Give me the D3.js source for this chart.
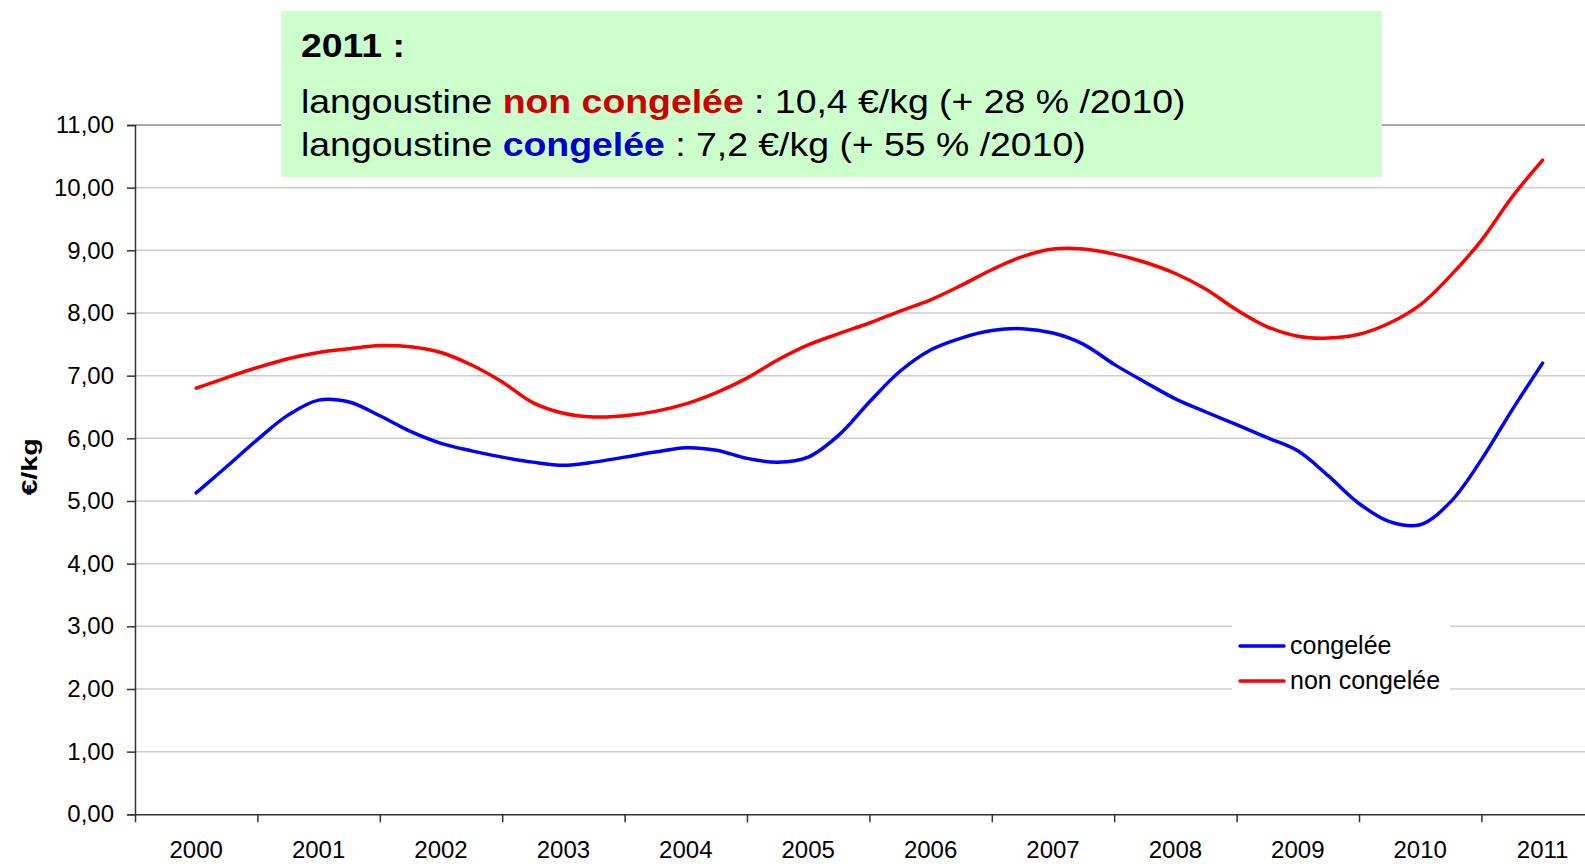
<!DOCTYPE html>
<html>
<head>
<meta charset="utf-8">
<script src="https://cdn.jsdelivr.net/npm/d3@7"></script>
<style>
  html, body { margin: 0; padding: 0; background: #fff; overflow: hidden; }
  svg { display: block; font-family: "Liberation Sans", Arial, sans-serif; }
</style>
</head>
<body>
<svg id="chart" width="1585" height="864"></svg>
<script>
// yearly categories shown on the x axis
const years = [2000, 2001, 2002, 2003, 2004, 2005, 2006, 2007, 2008, 2009, 2010, 2011];

// quarterly prices (€/kg), from Q1 2000 to Q1 2011
const congelee = [
    5.13, 5.55, 5.98, 6.37,
    6.61, 6.58, 6.36, 6.11,
    5.92, 5.80, 5.70, 5.62,
    5.57, 5.62, 5.70, 5.78,
    5.85, 5.81, 5.68, 5.62,
    5.70, 6.05, 6.58, 7.07,
    7.41, 7.60, 7.72, 7.75,
    7.68, 7.50, 7.18, 6.90,
    6.63, 6.42, 6.22, 6.01,
    5.80, 5.40, 4.96, 4.67,
    4.62, 4.99, 5.66, 6.45,
    7.20
];
const nonCongelee = [
    6.80, 6.97, 7.13, 7.27,
    7.37, 7.43, 7.48, 7.46,
    7.37, 7.17, 6.90, 6.57,
    6.40, 6.34, 6.36, 6.43,
    6.55, 6.73, 6.96, 7.25,
    7.49, 7.67, 7.84, 8.03,
    8.21, 8.44, 8.69, 8.90,
    9.02, 9.02, 8.94, 8.81,
    8.63, 8.38, 8.05, 7.78,
    7.63, 7.60, 7.66, 7.84,
    8.13, 8.60, 9.16, 9.85,
    10.44
];

const yTicks = [0, 1, 2, 3, 4, 5, 6, 7, 8, 9, 10, 11];

const seriesNames = ['congelée', 'non congelée'];
const seriesColors = ['#0000ff', '#ff0000'];

const margin = { top: 125, left: 135, bottom: 50 };
const bandWidth = 122.4;
const fontFamily = '"Liberation Sans", Arial, sans-serif';

let svg = d3.select('#chart');

// x: continuous time in years, band edges on integer years
let xScale = d3.scaleLinear()
    .domain([years[0], years[years.length - 1] + 1])
    .range([margin.left, margin.left + years.length * bandWidth]);
let xBand = d3.scaleBand()
    .domain(years)
    .range(xScale.range());
let yScale = d3.scaleLinear()
    .domain([0, 11])
    .range([814.3, margin.top]);

// time of each quarterly point (the first point sits in the middle of the 2000 band)
let quarterTime = function(i){
    return years[0] + 0.5 + i / 4;
};

// grid lines
svg.append('g')
    .selectAll('line')
    .data(yTicks.slice(1))
    .enter()
    .append('line')
    .attr('x1', margin.left)
    .attr('x2', xScale.range()[1])
    .attr('y1', d => yScale(d))
    .attr('y2', d => yScale(d))
    .attr('stroke', d => d === 11 ? '#8c8c8c' : '#cdcdcd')
    .attr('stroke-width', 1.5);

// y axis
let yAxis = svg.append('g')
    .attr('transform', 'translate(' + margin.left + ',0)')
    .call(d3.axisLeft(yScale)
        .tickValues(yTicks)
        .tickSize(8)
        .tickPadding(13)
        .tickFormat(d => d3.format('.2f')(d).replace('.', ',')));
yAxis.select('.domain').attr('stroke', '#333').attr('stroke-width', 1.5);
yAxis.selectAll('.tick line').attr('stroke', '#333').attr('stroke-width', 1.5);
yAxis.selectAll('text').attr('font-size', 24).attr('fill', '#000')
    .attr('font-family', fontFamily);

// x axis: ticks between categories, labels centered in each band
let xAxis = svg.append('g')
    .attr('transform', 'translate(0,' + yScale(0) + ')')
    .call(d3.axisBottom(xScale)
        .tickValues(d3.range(years[0], years[years.length - 1] + 2))
        .tickSize(8)
        .tickSizeOuter(0)
        .tickFormat(''));
xAxis.select('.domain').attr('stroke', '#333').attr('stroke-width', 1.5);
xAxis.selectAll('.tick line').attr('stroke', '#333').attr('stroke-width', 1.5);

let xLabels = svg.append('g')
    .attr('transform', 'translate(0,' + yScale(0) + ')')
    .call(d3.axisBottom(xBand).tickSize(0).tickPadding(27));
xLabels.select('.domain').remove();
xLabels.selectAll('text').attr('font-size', 24).attr('fill', '#000')
    .attr('font-family', fontFamily);

// y axis title
svg.append('text')
    .attr('transform', 'translate(37,467) rotate(-90) scale(1.3,1)')
    .attr('text-anchor', 'middle')
    .attr('font-size', 22)
    .attr('font-weight', 'bold')
    .text('€/kg');

// curves
let lineGen = d3.line()
    .curve(d3.curveCatmullRom.alpha(0.5))
    .x((d, i) => xScale(quarterTime(i)))
    .y(d => yScale(d));

svg.append('g')
    .selectAll('path')
    .data([congelee, nonCongelee])
    .enter()
    .append('path')
    .attr('d', lineGen)
    .attr('fill', 'none')
    .attr('stroke', (d, i) => seriesColors[i])
    .attr('stroke-width', 3.5)
    .attr('stroke-linejoin', 'round')
    .attr('stroke-linecap', 'round');

// legend
let legend = svg.append('g').attr('transform', 'translate(1232,612)');
legend.append('rect')
    .attr('width', 218)
    .attr('height', 92)
    .attr('fill', '#fff');
let items = legend.selectAll('g.item')
    .data(seriesNames)
    .enter()
    .append('g')
    .attr('class', 'item')
    .attr('transform', (d, i) => 'translate(0,' + (34 + i * 35) + ')');
items.append('line')
    .attr('x1', 8).attr('x2', 52)
    .attr('stroke', (d, i) => seriesColors[i])
    .attr('stroke-width', 3.5)
    .attr('stroke-linecap', 'round');
items.append('text')
    .attr('x', 58)
    .attr('y', 8)
    .attr('font-size', 25)
    .text(d => d);

// annotation box
let note = svg.append('g');
note.append('rect')
    .attr('x', 281).attr('y', 11)
    .attr('width', 1101).attr('height', 166)
    .attr('fill', '#ccffcc');
note.append('text')
    .attr('transform', 'translate(301,57) scale(1.1,1)')
    .attr('font-size', 34)
    .attr('font-weight', 'bold')
    .text('2011 :');

let l1 = note.append('text')
    .attr('transform', 'translate(301,113) scale(1.1,1)')
    .attr('font-size', 34);
l1.append('tspan').text('langoustine ');
l1.append('tspan').attr('fill', '#cc0000').attr('font-weight', 'bold').text('non congelée');
l1.append('tspan').text(' : 10,4 €/kg (+ 28 % /2010)');

let l2 = note.append('text')
    .attr('transform', 'translate(301,156) scale(1.1,1)')
    .attr('font-size', 34);
l2.append('tspan').text('langoustine ');
l2.append('tspan').attr('fill', '#0000cc').attr('font-weight', 'bold').text('congelée');
l2.append('tspan').text(' : 7,2 €/kg (+ 55 % /2010)');
</script>
</body>
</html>
